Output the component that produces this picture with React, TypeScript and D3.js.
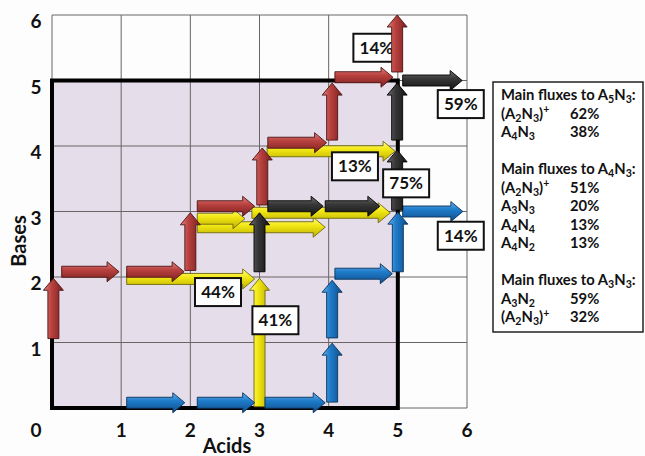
import React from 'react';
import * as d3 from 'd3';

const W = 645;
const H = 456;

const xTicks = [0, 1, 2, 3, 4, 5, 6];
const yTicks = [1, 2, 3, 4, 5, 6];
const gridValues = [0, 1, 2, 3, 4, 5, 6];
const regionMax = 5;

type Arrow = [number, number, number, number];

const yellowArrows: Arrow[] = [
  [1.08, 1.97, 2.93, 1.97],
  [3.0, 0.02, 3.0, 1.98],
  [2.1, 2.76, 3.95, 2.76],
  [2.1, 2.89, 2.79, 2.89],
  [2.89, 2.98, 4.89, 2.98],
  [3.11, 3.92, 4.96, 3.92],
];

const blueArrows: Arrow[] = [
  [1.08, 0.08, 1.92, 0.08],
  [2.1, 0.08, 2.93, 0.08],
  [3.08, 0.08, 3.95, 0.08],
  [4.05, 0.09, 4.05, 0.99],
  [4.05, 1.07, 4.05, 1.95],
  [4.09, 2.05, 4.92, 2.05],
  [5.0, 2.08, 5.0, 2.99],
  [5.07, 3.0, 5.94, 3.0],
];

const redArrows: Arrow[] = [
  [0.02, 1.06, 0.02, 1.98],
  [0.14, 2.08, 0.97, 2.08],
  [1.08, 2.08, 1.91, 2.08],
  [2.0, 2.1, 2.0, 2.98],
  [2.1, 3.08, 2.93, 3.08],
  [3.04, 3.1, 3.04, 3.97],
  [3.12, 4.05, 3.97, 4.05],
  [4.05, 4.09, 4.05, 4.96],
  [4.09, 5.05, 4.93, 5.05],
  [4.99, 5.13, 4.99, 6.0],
];

const blackArrows: Arrow[] = [
  [3.0, 2.08, 3.0, 2.98],
  [3.12, 3.08, 3.92, 3.08],
  [3.95, 3.08, 4.74, 3.08],
  [4.99, 3.02, 4.99, 3.94],
  [4.99, 4.09, 4.99, 4.96],
  [5.07, 5.0, 5.93, 5.0],
];

const labelX = [4.69, 5.91, 4.38, 5.12, 5.91, 2.4, 3.23];
const labelY = [5.5, 4.64, 3.69, 3.43, 2.63, 1.77, 1.34];
const labelText = ['14%', '59%', '13%', '75%', '14%', '44%', '41%'];
const labelBehind = [true, false, false, false, false, false, false];

const fluxTitles = ['Main fluxes to A_5N_3:', 'Main fluxes to A_4N_3:', 'Main fluxes to A_3N_3:'];
const fluxSpecies = [
  ['(A_2N_3)^+', 'A_4N_3'],
  ['(A_2N_3)^+', 'A_3N_3', 'A_4N_4', 'A_4N_2'],
  ['A_3N_2', '(A_2N_3)^+'],
];
const fluxPercents = [
  ['62%', '38%'],
  ['51%', '20%', '13%', '13%'],
  ['59%', '32%'],
];

const palette: Record<string, { light: string; base: string; dark: string; stroke: string }> = {
  yellow: { light: '#fffb8a', base: '#f3e915', dark: '#bdb000', stroke: '#6e6812' },
  blue: { light: '#63b2ee', base: '#1f7cca', dark: '#0f4d8c', stroke: '#0a3258' },
  red: { light: '#e2817e', base: '#b9423f', dark: '#7b1f1f', stroke: '#4a1414' },
  black: { light: '#707070', base: '#383838', dark: '#141414', stroke: '#000000' },
};

const FONT = "Lato, 'Open Sans', 'DejaVu Sans', sans-serif";

const x = d3.scaleLinear().domain([0, 6]).range([52, 467]);
const y = d3.scaleLinear().domain([0, 6]).range([408, 15]);

function arrowPath(a: Arrow): string {
  const sx = x(a[0]), sy = y(a[1]), ex = x(a[2]), ey = y(a[3]);
  const dx = ex - sx, dy = ey - sy;
  const len = Math.hypot(dx, dy);
  const ux = dx / len, uy = dy / len;
  const nx = -uy, ny = ux;
  const w = 5.5, h = 10, L = 12;
  const bx = ex - ux * L, by = ey - uy * L;
  const p = d3.path();
  p.moveTo(sx + nx * w, sy + ny * w);
  p.lineTo(bx + nx * w, by + ny * w);
  p.lineTo(bx + nx * h, by + ny * h);
  p.lineTo(ex, ey);
  p.lineTo(bx - nx * h, by - ny * h);
  p.lineTo(bx - nx * w, by - ny * w);
  p.lineTo(sx - nx * w, sy - ny * w);
  p.closePath();
  return p.toString();
}

function ArrowSet({ arrows, color }: { arrows: Arrow[]; color: string }) {
  return (
    <g>
      {arrows.map((a, i) => {
        const horiz = Math.abs(a[3] - a[1]) < 0.001;
        const grad = `url(#g-${color}-${horiz ? 'h' : 'v'})`;
        return (
          <path key={i} d={arrowPath(a)} fill={grad} stroke={palette[color].stroke}
            strokeWidth={0.9} strokeLinejoin="miter" />
        );
      })}
    </g>
  );
}

function parseFormula(s: string) {
  const segs: { t: string; k: 'n' | 'sub' | 'sup' }[] = [];
  let i = 0;
  while (i < s.length) {
    const c = s[i];
    if (c === '_' && i + 1 < s.length) {
      segs.push({ t: s[i + 1], k: 'sub' });
      i += 2;
    } else if (c === '^' && i + 1 < s.length) {
      segs.push({ t: s[i + 1], k: 'sup' });
      i += 2;
    } else {
      const last = segs[segs.length - 1];
      if (last && last.k === 'n') last.t += c;
      else segs.push({ t: c, k: 'n' });
      i += 1;
    }
  }
  return segs;
}

function Formula({ s, px, py, size }: { s: string; px: number; py: number; size: number }) {
  const segs = parseFormula(s);
  let cur = 0;
  return (
    <text x={px} y={py} fontFamily={FONT} fontWeight="bold" fontSize={size} fill="#111">
      {segs.map((sg, i) => {
        const target = sg.k === 'sub' ? 3.4 : sg.k === 'sup' ? -5.5 : 0;
        const dy = target - cur;
        cur = target;
        const fs = sg.k === 'n' ? size : size * 0.72;
        return (
          <tspan key={i} dy={dy} fontSize={fs}>{sg.t}</tspan>
        );
      })}
    </text>
  );
}

function LabelBox({ i }: { i: number }) {
  const cx = x(labelX[i]);
  const cy = y(labelY[i]);
  const bw = 46, bh = 28;
  return (
    <g>
      <rect x={cx - bw / 2} y={cy - bh / 2} width={bw} height={bh} fill="#ffffff" stroke="#111" strokeWidth={2} />
      <text x={cx} y={cy + 6} textAnchor="middle" fontFamily={FONT} fontWeight="bold" fontSize={17} fill="#111">
        {labelText[i]}
      </text>
    </g>
  );
}

export default function App() {
  const colors = Object.keys(palette);
  const lineStart = 95;
  const lineStep = 18.5;
  const infoSize = 14.8;
  const infoRows: React.ReactNode[] = [];
  let line = 0;
  fluxTitles.forEach((title, g) => {
    infoRows.push(<Formula key={`t${g}`} s={title} px={501} py={lineStart + line * lineStep + 5} size={infoSize} />);
    line += 1;
    fluxSpecies[g].forEach((sp, r) => {
      const py = lineStart + line * lineStep + 5;
      infoRows.push(<Formula key={`s${g}-${r}`} s={sp} px={501} py={py} size={infoSize} />);
      infoRows.push(
        <text key={`p${g}-${r}`} x={570} y={py} fontFamily={FONT} fontWeight="bold" fontSize={infoSize} fill="#111">
          {fluxPercents[g][r]}
        </text>
      );
      line += 1;
    });
    line += 1;
  });

  return (
    <svg width={W} height={H} viewBox={`0 0 ${W} ${H}`} style={{ position: 'absolute', left: 0, top: 0, background: '#fff' }}>
      <defs>
        {colors.map((c) => (
          <React.Fragment key={c}>
            <linearGradient id={`g-${c}-h`} x1="0" y1="0" x2="0" y2="1">
              <stop offset="0" stopColor={palette[c].light} />
              <stop offset="0.4" stopColor={palette[c].base} />
              <stop offset="1" stopColor={palette[c].dark} />
            </linearGradient>
            <linearGradient id={`g-${c}-v`} x1="0" y1="0" x2="1" y2="0">
              <stop offset="0" stopColor={palette[c].light} />
              <stop offset="0.4" stopColor={palette[c].base} />
              <stop offset="1" stopColor={palette[c].dark} />
            </linearGradient>
          </React.Fragment>
        ))}
      </defs>
      <rect x={0} y={0} width={W} height={H} fill="#fdfdfd" />
      <rect x={x(0)} y={y(regionMax)} width={x(regionMax) - x(0)} height={y(0) - y(regionMax)} fill="#e5dde9" />
      <g>
        {gridValues.map((v) => (
          <line key={`gx${v}`} x1={x(v)} x2={x(v)} y1={y(0)} y2={y(6)} stroke="#6a6464" strokeWidth={1} />
        ))}
        {gridValues.map((v) => (
          <line key={`gy${v}`} x1={x(0)} x2={x(6)} y1={y(v)} y2={y(v)} stroke="#6a6464" strokeWidth={1} />
        ))}
      </g>
      <rect x={x(0)} y={y(regionMax)} width={x(regionMax) - x(0)} height={y(0) - y(regionMax)} fill="none" stroke="#000" strokeWidth={4} />

      {xTicks.map((v) => (
        <text key={`xt${v}`} x={x(v) - (v === 0 ? 16 : 0)} y={437} textAnchor="middle" fontFamily={FONT} fontWeight="bold" fontSize={19} fill="#111">
          {v}
        </text>
      ))}
      {yTicks.map((v) => (
        <text key={`yt${v}`} x={36} y={y(v) + 13} textAnchor="middle" fontFamily={FONT} fontWeight="bold" fontSize={19} fill="#111">
          {v}
        </text>
      ))}
      <text x={227} y={453} textAnchor="middle" fontFamily={FONT} fontWeight="bold" fontSize={20} fill="#111">Acids</text>
      <text transform="translate(26,241) rotate(-90)" textAnchor="middle" fontFamily={FONT} fontWeight="bold" fontSize={20} fill="#111">Bases</text>

      {labelText.map((_, i) => (labelBehind[i] ? <LabelBox key={`lb${i}`} i={i} /> : null))}

      <ArrowSet arrows={yellowArrows} color="yellow" />
      <ArrowSet arrows={blueArrows} color="blue" />
      <ArrowSet arrows={redArrows} color="red" />
      <ArrowSet arrows={blackArrows} color="black" />

      {labelText.map((_, i) => (!labelBehind[i] ? <LabelBox key={`lf${i}`} i={i} /> : null))}

      <rect x={493} y={82} width={150} height={250} fill="#fff" stroke="#222" strokeWidth={1.5} />
      {infoRows}
    </svg>
  );
}
